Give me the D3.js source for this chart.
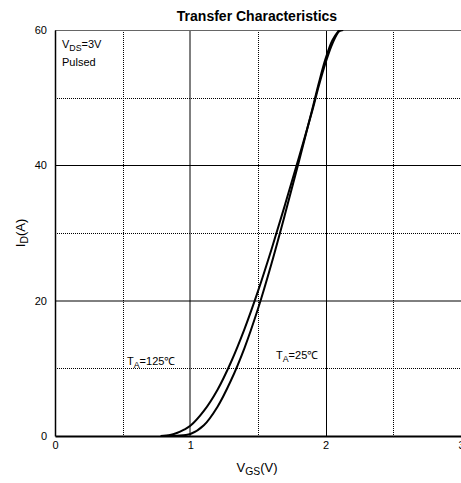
<!DOCTYPE html>
<html>
<head>
<meta charset="utf-8">
<script src="https://cdn.jsdelivr.net/npm/d3@7"></script>
<style>
  body { margin: 0; background: #fff; }
  text { font-family: "Liberation Sans", Arial, sans-serif; }
</style>
</head>
<body>
<div id="chart"></div>
<script>
// curve data (V_GS in V, I_D in A)
const vgs125 = [0.78, 0.85, 0.9, 0.95, 1.0, 1.1, 1.2, 1.3, 1.4, 1.5, 1.6, 1.7, 1.8, 1.9, 1.95, 2.0, 2.05, 2.1, 2.13];
const id125  = [0, 0.15, 0.45, 0.9, 1.5, 3.7, 6.8, 10.9, 15.8, 21.4, 27.6, 34.2, 41, 48, 51.8, 55.2, 58, 59.8, 60];
const vgs25  = [0.8, 0.9, 1.0, 1.1, 1.2, 1.3, 1.4, 1.5, 1.6, 1.7, 1.8, 1.9, 1.95, 2.0, 2.05, 2.1];
const id25   = [0, 0.04, 0.3, 1.6, 4.3, 8.2, 13.0, 18.8, 25.5, 32.8, 40.4, 48.2, 52.2, 55.8, 58.5, 60];
const xTicks = [0, 1, 2, 3];
const yTicks = [0, 20, 40, 60];
const xMinor = [0.5, 1.5, 2.5];
const yMinor = [10, 30, 50];

var margin = { top: 30, right: 1, bottom: 47, left: 55 };

var svg = d3.select("#chart").append("svg")
  .attr("width", 461).attr("height", 483);
var g = svg.append("g")
  .attr("transform", "translate(" + margin.left + "," + margin.top + ")");

var x = d3.scaleLinear().domain([0, 3]).range([0, 406]);
var y = d3.scaleLinear().domain([0, 60]).range([406, 0]);

// minor grid (dotted)
g.selectAll(".xminor").data(xMinor).enter().append("line")
  .attr("x1", d => Math.round(x(d)) + 0.5).attr("x2", d => Math.round(x(d)) + 0.5)
  .attr("y1", 0).attr("y2", y(0))
  .attr("stroke", "#000").attr("stroke-width", 1).attr("stroke-dasharray", "1,1");
g.selectAll(".yminor").data(yMinor).enter().append("line")
  .attr("y1", d => Math.round(y(d)) + 0.5).attr("y2", d => Math.round(y(d)) + 0.5)
  .attr("x1", 0).attr("x2", x(3))
  .attr("stroke", "#000").attr("stroke-width", 1).attr("stroke-dasharray", "1,1");

// major grid (solid); the 1 V and 20 A lines look soft gray in the original
g.selectAll(".xmajor").data([1, 2]).enter().append("line")
  .attr("x1", d => d === 1 ? Math.round(x(d)) : Math.round(x(d)) + 0.5)
  .attr("x2", d => d === 1 ? Math.round(x(d)) : Math.round(x(d)) + 0.5)
  .attr("y1", 0).attr("y2", y(0))
  .attr("stroke", "#000").attr("stroke-width", 1);
g.selectAll(".ymajor").data([20, 40]).enter().append("line")
  .attr("y1", d => d === 20 ? Math.round(y(d)) : Math.round(y(d)) + 0.5)
  .attr("y2", d => d === 20 ? Math.round(y(d)) : Math.round(y(d)) + 0.5)
  .attr("x1", 0).attr("x2", x(3))
  .attr("stroke", "#000").attr("stroke-width", 1);

// top border
g.append("line").attr("x1", 0).attr("x2", x(3)).attr("y1", 0.5).attr("y2", 0.5)
  .attr("stroke", "#666").attr("stroke-width", 1);

// axes
g.append("g")
  .attr("transform", "translate(0," + y(0) + ")")
  .call(d3.axisBottom(x).tickValues(xTicks).tickSize(0).tickPadding(5).tickFormat(d3.format("d")))
  .call(g => g.select(".domain").attr("stroke-width", 2))
  .selectAll("text").attr("font-size", 11).attr("fill", "#000");
g.append("g")
  .call(d3.axisLeft(y).tickValues(yTicks).tickSize(0).tickPadding(8).tickFormat(d3.format("d")))
  .call(g => g.select(".domain").attr("stroke-width", 1.5))
  .selectAll("text").attr("font-size", 11).attr("fill", "#000");

// curves
var line = d3.line().x(d => x(d[0])).y(d => y(d[1])).curve(d3.curveCatmullRom.alpha(0.5));
var c125 = vgs125.map((v, i) => [v, id125[i]]);
var c25 = vgs25.map((v, i) => [v, id25[i]]);
g.append("defs").append("clipPath").attr("id", "clip")
  .append("rect").attr("x", 0).attr("y", 0).attr("width", 406).attr("height", 406);
[c125, c25].forEach(c => {
  g.append("path").datum(c).attr("d", line)
    .attr("fill", "none").attr("stroke", "#000").attr("stroke-width", 2)
    .attr("clip-path", "url(#clip)");
});

// annotations
function sub(t, main, s, rest, xx, yy, size) {
  var tx = t.append("text").attr("x", xx).attr("y", yy).attr("font-size", size).attr("fill", "#000");
  tx.append("tspan").text(main);
  tx.append("tspan").attr("font-size", size * 0.8).attr("dy", 3).text(s);
  tx.append("tspan").attr("dy", -3).text(rest);
  return tx;
}
sub(svg, "V", "DS", "=3V", 62, 48, 11);
svg.append("text").attr("x", 62).attr("y", 66).attr("font-size", 11).text("Pulsed");
sub(svg, "T", "A", "=125\u2103", 127, 365, 11);
sub(svg, "T", "A", "=25\u2103", 276, 359, 11);

// title
svg.append("text").attr("x", 257).attr("y", 21).attr("text-anchor", "middle")
  .attr("font-size", 14).attr("font-weight", "bold").text("Transfer Characteristics");

// axis labels
sub(svg, "V", "GS", "(V)", 257, 472, 13).attr("text-anchor", "middle");
var yl = svg.append("g").attr("transform", "translate(25,233) rotate(-90)");
sub(yl, "I", "D", "(A)", 0, 0, 13).attr("text-anchor", "middle");
</script>
</body>
</html>
